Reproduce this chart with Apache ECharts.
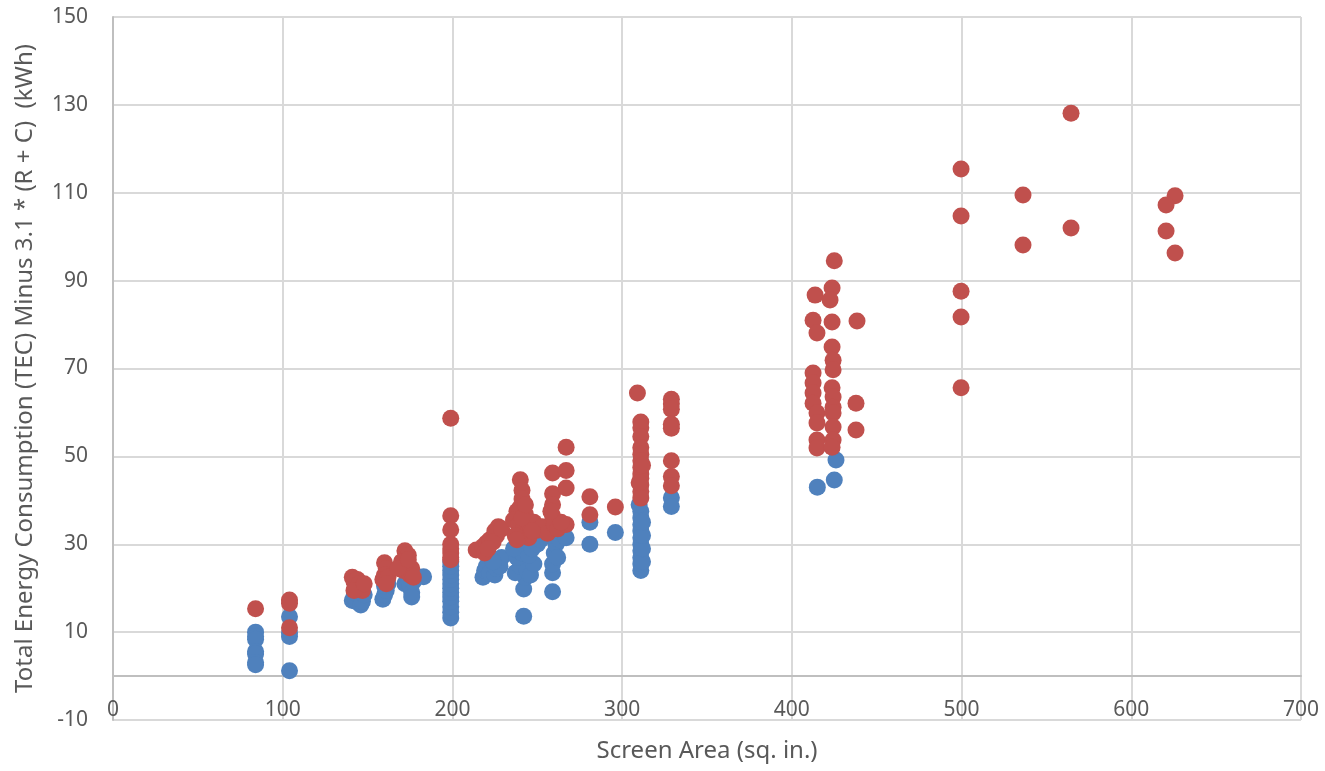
<!DOCTYPE html>
<html>
<head>
<meta charset="utf-8">
<title>Screen Area vs Energy Consumption</title>
<script src="https://cdn.jsdelivr.net/npm/echarts@6/dist/echarts.min.js"></script>
<style>
  html, body { margin: 0; padding: 0; background: #ffffff; }
  #chart { width: 1325px; height: 771px; }
</style>
</head>
<body>
<div id="chart"></div>
<script>
// Axis settings
const xTicks = { min: 0, max: 700, interval: 100 };
const yTicks = { min: -10, max: 150, interval: 20 };
const xAxisTitle = 'Screen Area (sq. in.)';
const yAxisTitle = 'Total Energy Consumption (TEC) Minus 3.1 * (R + C)  (kWh)';

// Lower series: [screen area, kWh]
const seriesA = [
  [84, 10], [84, 9], [84, 8.4], [84, 5.6], [84, 5], [84, 3.1], [84, 2.6],
  [104, 13.5], [104, 9.8], [104, 9], [104, 1.2],
  [141, 17.2], [142, 18], [143, 17.5], [144, 16.8], [145, 18.2], [146, 16.2], [147, 17], [148, 18.5],
  [159, 17.5], [160, 18.5], [161, 19.5], [160, 20.5], [162, 21],
  [172, 21], [174, 22], [175, 20.5], [176, 19], [176, 18], [177, 21.5], [183, 22.6],
  [199, 13.2], [199, 14.5], [199, 15.8], [199, 17], [199, 18], [199, 19], [199, 20],
  [199, 21], [199, 22], [199, 23], [199, 24], [199, 25], [199, 26],
  [218, 22.5], [219, 24], [220, 25], [222, 23.5], [225, 23], [226, 24.5], [227, 26],
  [228, 25], [229, 27], [224, 26],
  [242, 13.6], [242, 19.8], [243, 22.5], [237, 23.5], [240, 25], [244, 24], [246, 23],
  [248, 25.5], [238, 27], [241, 28], [245, 27.5], [239, 30], [243, 31], [247, 29],
  [250, 30], [236, 29], [244, 32],
  [252, 31], [255, 32.5], [259, 19.2], [259, 23.5], [259, 25.5], [260, 28], [261, 30],
  [258, 32], [263, 31], [265, 32.5], [267, 31.5], [262, 27],
  [281, 35], [281, 30],
  [296, 32.7],
  [311, 24], [311, 25.5], [311, 27], [311, 28.5], [311, 30], [311, 31.5], [311, 33],
  [311, 34.5], [311, 36], [311, 37.5], [310, 39], [312, 26], [312, 29], [312, 32], [312, 35],
  [329, 40.6], [329, 38.6],
  [426, 49.2], [425, 44.6], [415, 43]
];

// Upper series: [screen area, kWh]
const seriesB = [
  [84, 15.3],
  [104, 17.3], [104, 16.6], [104, 11],
  [141, 22.5], [142, 21.5], [143, 20.5], [144, 22], [145, 21], [146, 20], [147, 19.5], [142, 19.5], [148, 21],
  [160, 25.8], [161, 24.5], [160, 23], [159, 22], [162, 22.5], [161, 21],
  [172, 28.5], [174, 27.5], [170, 26], [173, 25.5], [176, 24.5], [171, 24], [175, 23],
  [177, 22.5], [168, 24.5], [174, 26.5],
  [199, 58.7], [199, 36.5], [199, 33.3], [199, 30], [199, 29], [199, 28], [199, 27], [199, 26.5],
  [214, 28.7], [218, 29.5], [220, 30.3], [222, 31], [225, 33], [227, 34], [226, 32],
  [224, 30.5], [229, 33.5], [219, 28], [221, 29],
  [240, 44.7], [241, 42.3], [241, 40.3], [240, 38.5], [238, 37.5], [243, 36.8], [236, 35.5],
  [239, 34.5], [242, 33.5], [244, 32.5], [246, 34], [248, 35], [237, 32], [245, 31.5],
  [250, 33.2], [253, 34], [256, 32.5], [241, 36], [243, 39], [247, 33], [238, 31],
  [267, 52.1], [259, 46.2], [267, 46.8], [259, 41.5], [267, 42.8], [259, 39], [259, 36.5],
  [260, 34.5], [262, 33.5], [267, 34.5], [264, 35], [258, 37.5],
  [281, 40.8], [281, 36.7],
  [296, 38.5],
  [309, 64.4], [311, 57.8], [311, 56.5], [311, 54.5], [311, 52], [311, 50.5], [311, 49],
  [311, 47.5], [311, 46], [311, 45], [311, 43.5], [311, 42], [311, 40.5], [310, 44], [312, 48],
  [329, 63], [329, 62], [329, 60.7], [329, 57.3], [329, 56.4], [329, 49], [329, 45.4], [329, 43.3],
  [425, 94.5], [413.7, 86.7], [423.7, 88.3], [422.5, 85.6], [412.5, 81], [423.7, 80.6],
  [438.4, 80.8], [414.8, 78.1], [423.7, 74.9], [424.3, 71.9], [424.3, 69.7], [412.5, 69],
  [412.5, 66.7], [412.5, 64.4], [423.7, 65.6], [424.3, 63.5], [412.5, 62.1], [424.3, 61.2],
  [437.8, 62.1], [414.8, 59.9], [424.3, 59.9], [414.8, 57.6], [424.3, 56.7], [437.8, 56],
  [414.8, 53.7], [424.3, 53.7], [414.8, 51.9], [423.7, 52.1],
  [564.5, 128.1], [499.7, 115.4], [536.2, 109.5], [625.8, 109.3], [620.5, 107.2],
  [499.7, 104.7], [564.5, 102], [620.5, 101.3], [536.2, 98.1], [625.8, 96.3],
  [499.7, 87.6], [499.7, 81.7], [499.7, 65.6]
];

const textColor = '#595959';
const gridColor = '#d9d9d9';
const axisColor = '#bfbfbf';
const fontFamily = '"Noto Sans", "Open Sans", sans-serif';

const chart = echarts.init(document.getElementById('chart'), null, { renderer: 'canvas' });

chart.setOption({
  animation: false,
  backgroundColor: '#ffffff',
  textStyle: { fontFamily: fontFamily },
  grid: {
    left: 113, right: 24, top: 17, bottom: 51,
    containLabel: false,
    outerBoundsMode: 'none'
  },
  xAxis: {
    type: 'value',
    min: xTicks.min,
    max: xTicks.max,
    interval: xTicks.interval,
    name: xAxisTitle,
    nameLocation: 'middle',
    nameGap: 19,
    nameTextStyle: { color: textColor, fontSize: 24, fontFamily: fontFamily },
    axisLine: { show: true, onZero: true, lineStyle: { color: axisColor, width: 2 } },
    axisTick: { show: false },
    // tick labels sit just under the zero line, inside the plot's lower band
    axisLabel: { color: textColor, fontSize: 21, margin: -20, fontFamily: fontFamily },
    splitLine: { show: true, lineStyle: { color: gridColor, width: 2 } }
  },
  yAxis: {
    type: 'value',
    min: yTicks.min,
    max: yTicks.max,
    interval: yTicks.interval,
    name: yAxisTitle,
    nameLocation: 'middle',
    nameRotate: 90,
    nameGap: 76,
    nameTextStyle: { color: textColor, fontSize: 24, fontFamily: fontFamily },
    axisLine: { show: true, lineStyle: { color: axisColor, width: 2 } },
    axisTick: { show: false },
    axisLabel: { color: textColor, fontSize: 21, margin: 25, fontFamily: fontFamily },
    splitLine: { show: true, lineStyle: { color: gridColor, width: 2 } }
  },
  series: [
    {
      type: 'scatter',
      data: seriesA,
      symbol: 'circle',
      symbolSize: 17,
      itemStyle: { color: '#4f81bd', opacity: 1 }
    },
    {
      type: 'scatter',
      data: seriesB,
      symbol: 'circle',
      symbolSize: 17,
      itemStyle: { color: '#c0504d', opacity: 1 }
    }
  ]
});
</script>
</body>
</html>
